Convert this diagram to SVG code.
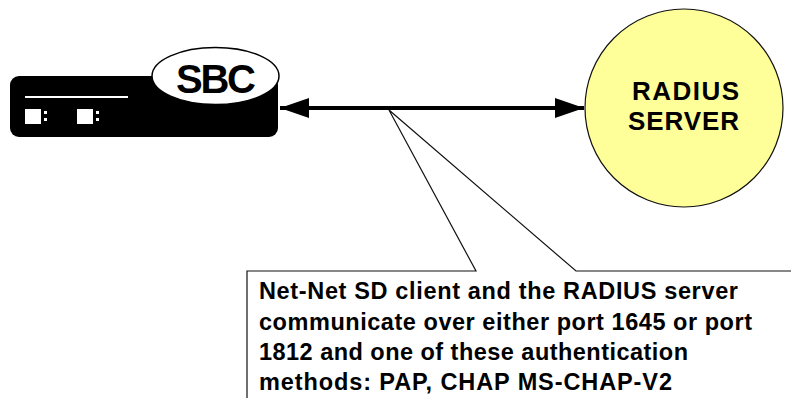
<svg xmlns="http://www.w3.org/2000/svg" width="791" height="398" viewBox="0 0 791 398">
<style>
text{font-family:"Liberation Sans",Arial,sans-serif;font-weight:bold;fill:#000}
.p{fill:#fff}
.c{font-size:23.5px}
.r{font-size:26px}
</style>
<defs>
<marker id="a" viewBox="0 0 29 20" refX="29" refY="10" markerWidth="29" markerHeight="20" markerUnits="userSpaceOnUse" orient="auto-start-reverse"><path d="M0 0L29 10L0 20Z" fill="#000"/></marker>
</defs>
<rect width="791" height="398" fill="#fff"/>
<g id="callout"><path d="M247 400V271H476L389 110L576 271H793V400Z" fill="#fff" stroke="#111" stroke-width="1.2"/>
<text class="c" x="259" y="299" textLength="479" lengthAdjust="spacing">Net-Net SD client and the RADIUS server</text>
<text class="c" x="259" y="329.500" textLength="493" lengthAdjust="spacing">communicate over either port 1645 or port</text>
<text class="c" x="259" y="360" textLength="429" lengthAdjust="spacing">1812 and one of these authentication</text>
<text class="c" x="259" y="389.500" textLength="413" lengthAdjust="spacing">methods: PAP, CHAP MS-CHAP-V2</text></g>
<g id="sbc"><rect x="10" y="76" width="268" height="61" rx="9" fill="#000"/>
<rect x="25" y="96" width="103" height="2" fill="#fff"/>
<rect x="25" y="109" width="16" height="15" class="p"/><rect x="44" y="111" width="3" height="3" class="p"/><rect x="44" y="118" width="3" height="3" class="p"/>
<rect x="77" y="109" width="16" height="15" class="p"/><rect x="96" y="111" width="3" height="3" class="p"/><rect x="96" y="118" width="3" height="3" class="p"/>
<ellipse cx="215.500" cy="76" rx="63.500" ry="28.500" fill="#fff" stroke="#000" stroke-width="1.5"/>
<text x="176" y="93" font-size="40" textLength="80" lengthAdjust="spacing">SBC</text></g>
<g id="radius"><circle cx="684" cy="108" r="99" fill="#ffff99" stroke="#111" stroke-width="1.2"/>
<text class="r" x="632" y="100" textLength="107" lengthAdjust="spacing">RADIUS</text><text class="r" x="628" y="130" textLength="111" lengthAdjust="spacing">SERVER</text></g>
<g id="connectors"><line x1="280" y1="108" x2="584" y2="108" stroke="#000" stroke-width="4" marker-start="url(#a)" marker-end="url(#a)"/></g>
</svg>
